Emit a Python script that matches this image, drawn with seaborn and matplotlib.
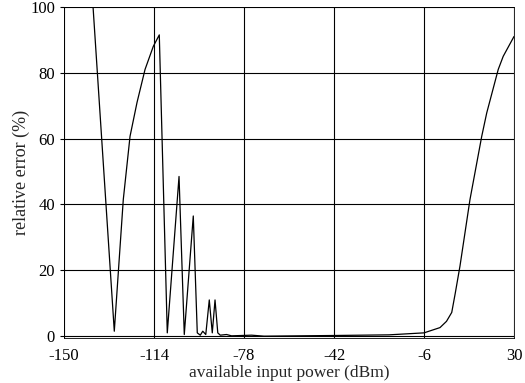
import numpy as np
import pandas as pd
from matplotlib import pyplot as plt
import seaborn as sns

sns.set_style("whitegrid")
plt.rcParams['font.family'] = ['Liberation Serif', 'DejaVu Serif']
plt.rcParams['axes.unicode_minus'] = False

# values
power_dbm = [-138.4, -129.9, -126.3, -123.6, -120.8, -117.6, -114.3, -111.9,
             -108.7, -104.0, -101.9, -98.3, -96.7, -95.5, -94.5, -93.3,
             -91.9, -90.7, -89.6, -88.5, -87.5, -85.0, -83.0, -75.0, -70.0,
             -42.0, -20.0, -6.0, 0.4, 3.0, 5.1, 6.5, 8.4, 12.4, 17.1, 19.1,
             23.7, 25.7, 30.0]
rel_error = [100, 1.5, 41.5, 60.7, 71, 81, 88, 91.5,
             1, 48.5, 0.5, 36.5, 1, 0.3, 1.5, 0.5,
             11, 1, 11, 1, 0.3, 0.5, 0.1, 0.3, 0,
             0.2, 0.4, 1, 2.6, 4.5, 7.2, 13, 21.3, 41.5, 60.7, 67.8,
             81, 85, 91]
xticks = [-150, -114, -78, -42, -6, 30]
yticks = [0, 20, 40, 60, 80, 100]

df = pd.DataFrame({'power': power_dbm, 'err': rel_error})

fig = plt.figure(figsize=(5.25, 3.83), dpi=100)
ax = fig.add_axes([0.122, 0.118, 0.857, 0.864])
sns.lineplot(data=df, x='power', y='err', sort=False, color='black',
             linewidth=0.9, ax=ax)

ax.set_xlim(-150, 30)
ax.set_ylim(-0.5, 100)
ax.set_xticks(xticks)
ax.set_yticks(yticks)
ax.grid(True, color='black', linewidth=0.8)
for s in ax.spines.values():
    s.set_color('black')
    s.set_linewidth(0.6)
ax.tick_params(labelsize=12, colors='black', length=3, left=True, bottom=False)
ax.tick_params(axis='x', pad=4.5)
ax.set_xlabel('available input power (dBm)', fontsize=12.5, labelpad=0.5)
ax.set_ylabel('relative error (%)', fontsize=13, labelpad=0)

fig.savefig('out.png', dpi=100)
